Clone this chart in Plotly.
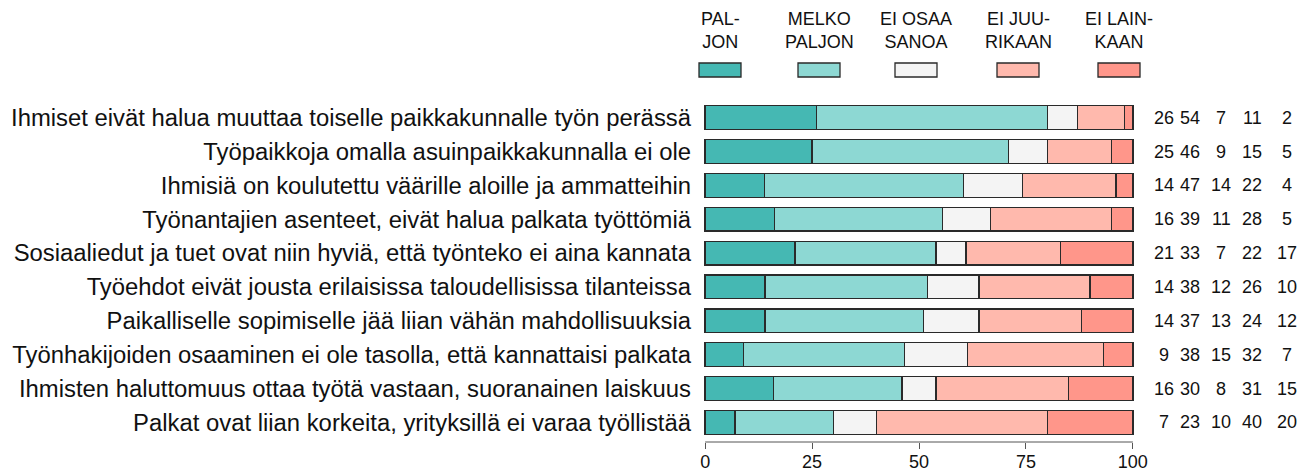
import plotly.graph_objects as go

# ---- data ----
categories = [
    "Ihmiset eivät halua muuttaa toiselle paikkakunnalle työn perässä",
    "Työpaikkoja omalla asuinpaikkakunnalla ei ole",
    "Ihmisiä on koulutettu väärille aloille ja ammatteihin",
    "Työnantajien asenteet, eivät halua palkata työttömiä",
    "Sosiaaliedut ja tuet ovat niin hyviä, että työnteko ei aina kannata",
    "Työehdot eivät jousta erilaisissa taloudellisissa tilanteissa",
    "Paikalliselle sopimiselle jää liian vähän mahdollisuuksia",
    "Työnhakijoiden osaaminen ei ole tasolla, että kannattaisi palkata",
    "Ihmisten haluttomuus ottaa työtä vastaan, suoranainen laiskuus",
    "Palkat ovat liian korkeita, yrityksillä ei varaa työllistää",
]
series_names = ["PALJON", "MELKO PALJON", "EI OSAA SANOA", "EI JUURIKAAN", "EI LAINKAAN"]
legend_labels = ["PAL-<br>JON", "MELKO<br>PALJON", "EI OSAA<br>SANOA", "EI JUU-<br>RIKAAN", "EI LAIN-<br>KAAN"]
paljon = [26, 25, 14, 16, 21, 14, 14, 9, 16, 7]
melko_paljon = [54, 46, 47, 39, 33, 38, 37, 38, 30, 23]
ei_osaa = [7, 9, 14, 11, 7, 12, 13, 15, 8, 10]
ei_juurikaan = [11, 15, 22, 28, 22, 26, 24, 32, 31, 40]
ei_lainkaan = [2, 5, 4, 5, 17, 10, 12, 7, 15, 20]
series_values = [paljon, melko_paljon, ei_osaa, ei_juurikaan, ei_lainkaan]
x_ticks = [0, 25, 50, 75, 100]

colors = ["#45B8B3", "#8DD8D3", "#F4F4F4", "#FFB9AD", "#FF968A"]

# rows are shown as shares of 100 %
row_totals = [sum(s[i] for s in series_values) for i in range(len(categories))]
shares = [[v / t * 100 for v, t in zip(s, row_totals)] for s in series_values]

# ---- layout geometry (pixels; page body has an 8px margin) ----
OFF = 8
W, H = 1306, 465
ML, MT, MB = 695, 90, 31
PW = 432
MR = W - ML - PW
PH = H - MT - MB

def px_x(px_abs):
    return (px_abs - OFF - ML) / PW

def px_y(py_abs):
    return 1 - (py_abs - OFF - MT) / PH

FONT = "Liberation Sans, Arial, sans-serif"

fig = go.Figure()
for name, vals, col in zip(series_names, shares, colors):
    fig.add_trace(go.Bar(
        y=categories, x=vals, name=name, orientation="h",
        marker=dict(color=col, line=dict(color="#2a2a2a", width=1.3)),
        showlegend=False, hoverinfo="skip",
    ))

annotations = []
# numbers on the right
col_px = [1164, 1190, 1221, 1252, 1287]
for j, vals in enumerate(series_values):
    for i, v in enumerate(vals):
        annotations.append(dict(
            x=px_x(col_px[j]), xref="paper", y=categories[i], yref="y",
            text=str(v), showarrow=False, xanchor="center", yanchor="middle",
            font=dict(size=18, color="#111", family=FONT),
        ))

# custom legend
leg_px = [720, 819, 916, 1018, 1119]
shapes = []
for lbl, col, cx in zip(legend_labels, colors, leg_px):
    annotations.append(dict(
        x=px_x(cx), xref="paper", y=px_y(30), yref="paper",
        text=lbl, showarrow=False, xanchor="center", yanchor="middle",
        align="center",
        font=dict(size=18, color="#111", family=FONT),
    ))
    shapes.append(dict(
        type="rect", xref="paper", yref="paper",
        x0=px_x(cx - 21), x1=px_x(cx + 21), y0=px_y(77), y1=px_y(63),
        fillcolor=col, line=dict(color="#2a2a2a", width=1.3),
    ))

# x axis line spanning 0..100
shapes.append(dict(type="line", xref="x", yref="paper", x0=0, x1=100, y0=0, y1=0,
                   line=dict(color="#555", width=1)))

fig.update_layout(
    barmode="stack",
    bargap=0.3,
    width=W, height=H,
    margin=dict(l=ML, r=MR, t=MT, b=MB, pad=0, autoexpand=False),
    plot_bgcolor="white", paper_bgcolor="white",
    font=dict(family=FONT, color="#111"),
    annotations=annotations,
    shapes=shapes,
    xaxis=dict(
        range=[-0.5, 100.5], tickvals=x_ticks, ticktext=[str(t) for t in x_ticks],
        showgrid=False, zeroline=False, showline=False, automargin=False,
        ticks="outside", ticklen=6, tickcolor="#555", tickwidth=1,
        ticklabelstandoff=-3,
        tickfont=dict(size=18, color="#111"),
    ),
    yaxis=dict(
        categoryorder="array", categoryarray=categories,
        range=[9.58, -0.58], automargin=False,
        showgrid=False, zeroline=False, showline=False,
        ticks="", ticklabelstandoff=11,
        tickfont=dict(size=23.85, color="#111"),
    ),
)

fig.write_html("out.html")
